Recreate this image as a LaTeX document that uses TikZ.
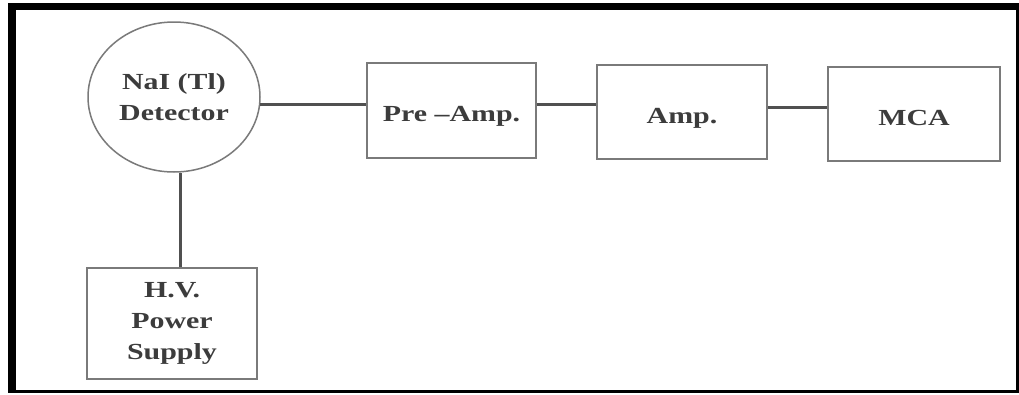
\documentclass[tikz,border=0pt]{standalone}
\usepackage{fontspec}
\setmainfont{Liberation Serif}[FakeStretch=1.3]
\usetikzlibrary{shapes.geometric}
\definecolor{txt}{HTML}{3C3C3C}
\definecolor{wire}{HTML}{505050}
\definecolor{edge}{HTML}{7A7A7A}
\begin{document}
\begin{tikzpicture}[x=1pt,y=-1pt,
  lbl/.style={text=txt,font=\fontsize{23}{31}\selectfont\bfseries,align=center,inner sep=0pt},
  blockbox/.style={lbl,draw=edge,line width=2pt,rectangle},
  oneline/.style={text height=22pt,text depth=0pt},
  wireline/.style={draw=wire,line width=3pt}]
\useasboundingbox[fill=white] (0,0) rectangle (1019,394);
% frame
\fill[black] (8,3) rectangle (16,393);
\fill[black] (8,3) rectangle (1019,10);
\fill[black] (1016,3) rectangle (1019,393);
\fill[black] (8,390) rectangle (1019,393);
% nodes
\node[lbl,draw=edge,line width=1.5pt,ellipse,minimum width=172pt,minimum height=150pt] (det) at (174,97) {NaI (Tl)\\Detector};
\node[blockbox,oneline,minimum width=169pt,minimum height=95pt] (pre) at (451.5,110.5) {Pre –Amp.};
\node[blockbox,oneline,minimum width=170pt,minimum height=94pt] (amp) at (682,112) {Amp.};
\node[blockbox,oneline,minimum width=172pt,minimum height=94pt] (mca) at (914,114) {MCA};
\node[blockbox,minimum width=170pt,minimum height=111pt] (hv) at (172,323.5) {H.V.\\Power\\Supply};
% connectors
\draw[wireline] (det.-5) -- (pre.west |- det.-5);
\draw[wireline] (pre.east |- 0,104) -- (amp.west |- 0,104);
\draw[wireline] (amp.east |- 0,107) -- (mca.west |- 0,107);
\draw[wireline] (det.-85) -- (det.-85 |- hv.north);
\end{tikzpicture}
\end{document}
